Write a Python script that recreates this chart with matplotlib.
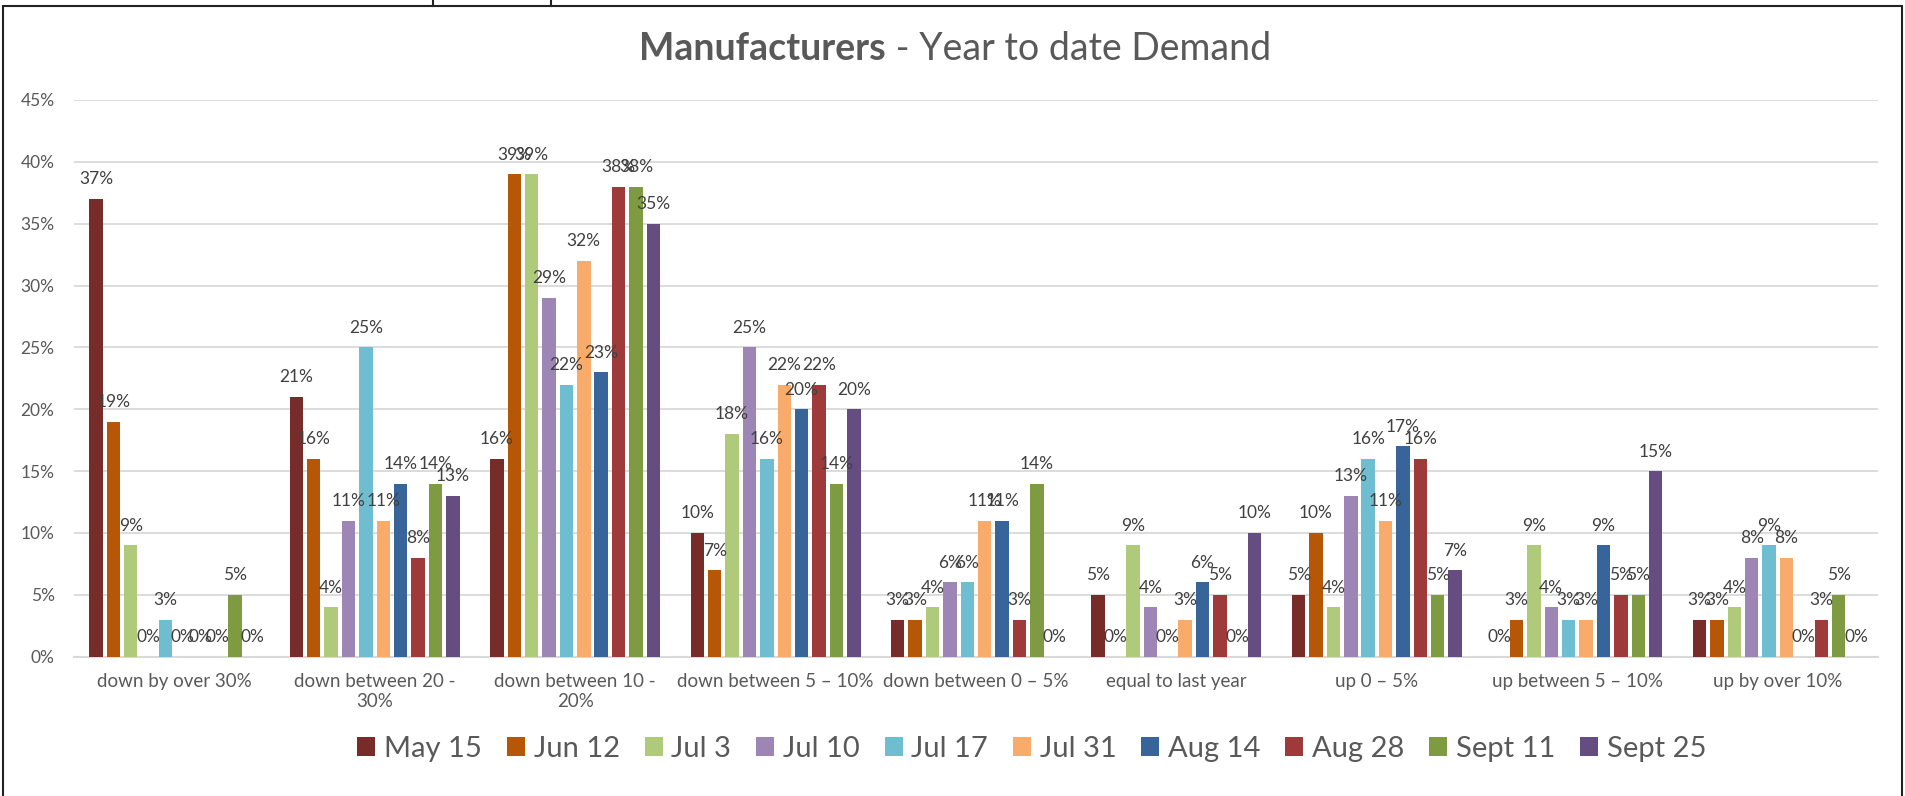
import matplotlib
matplotlib.use("Agg")
import matplotlib.pyplot as plt
from matplotlib.lines import Line2D
from matplotlib.patches import Rectangle

plt.rcParams['font.family'] = ['Lato', 'DejaVu Sans']

categories = [
    "down by over 30%", "down between 20 -\n30%", "down between 10 -\n20%",
    "down between 5 \u2013 10%", "down between 0 \u2013 5%", "equal to last year",
    "up 0 \u2013 5%", "up between 5 \u2013 10%", "up by over 10%",
]
series_names = ["May 15", "Jun 12", "Jul 3", "Jul 10", "Jul 17",
                "Jul 31", "Aug 14", "Aug 28", "Sept 11", "Sept 25"]
colors = ["#772C2A", "#B65708", "#B0CA7C", "#9D85B6", "#6FBDD0",
          "#F9AB6B", "#376599", "#9E3B3A", "#7E9B41", "#654D82"]

# percent per category, one list per survey date
may15 = [37, 21, 16, 10, 3, 5, 5, 0, 3]
jun12 = [19, 16, 39, 7, 3, 0, 10, 3, 3]
jul3 = [9, 4, 39, 18, 4, 9, 4, 9, 4]
jul10 = [0, 11, 29, 25, 6, 4, 13, 4, 8]
jul17 = [3, 25, 22, 16, 6, 0, 16, 3, 9]
jul31 = [0, 11, 32, 22, 11, 3, 11, 3, 8]
aug14 = [0, 14, 23, 20, 11, 6, 17, 9, 0]
aug28 = [0, 8, 38, 22, 3, 5, 16, 5, 3]
sept11 = [5, 14, 38, 14, 14, 0, 5, 5, 5]
sept25 = [0, 13, 35, 20, 0, 10, 7, 15, 0]
series = [may15, jun12, jul3, jul10, jul17, jul31, aug14, aug28, sept11, sept25]

W, H = 1906, 796
fig = plt.figure(figsize=(W / 100, H / 100), dpi=100)
ax = fig.add_axes([74 / W, 1 - 656.7 / H, (1878 - 74) / W, (656.7 - 100) / H])

slot = 0.0868
bw = 0.067
x = list(range(len(categories)))
for j, (vals, name, c) in enumerate(zip(series, series_names, colors)):
    xs = [i + (j - 4.5) * slot for i in x]
    ax.bar(xs, vals, width=bw, color=c, label=name, zorder=3)
    for xi, v in zip(xs, vals):
        ax.annotate(f"{v}%", (xi, v), xytext=(0, 10.5), textcoords='offset points',
                    ha='center', va='baseline', fontsize=12.5, color='#404040', zorder=4)

ax.set_xlim(-0.5, len(categories) - 0.5)
ax.set_ylim(0, 45)
ticks = list(range(0, 50, 5))
ax.set_yticks(ticks)
ax.set_yticklabels([f"{t}%" for t in ticks])
ax.set_xticks(x)
ax.set_xticklabels(categories)
ax.tick_params(axis='y', length=0, pad=14, labelsize=12.5, labelcolor='#595959')
ax.tick_params(axis='x', length=0, pad=12, labelsize=13.5, labelcolor='#595959')
ax.yaxis.grid(True, color='#D9D9D9', linewidth=1.3)
ax.set_axisbelow(True)
for s in ['top', 'right', 'left']:
    ax.spines[s].set_visible(False)
ax.spines['bottom'].set_color('#D9D9D9')
ax.spines['bottom'].set_linewidth(1.5)

ax.legend(loc='center', bbox_to_anchor=(1032 / W, 1 - 749 / H), bbox_transform=fig.transFigure,
          ncol=10, frameon=False, fontsize=21, handlelength=0.62, handleheight=0.62,
          handletextpad=0.3, columnspacing=0.85, labelcolor='#595959')

# title: bold part + regular part, centred together
ty = 1 - 49 / H
t1 = fig.text(0, ty, "Manufacturers", fontsize=27, weight='bold', color='#595959', va='center')
t2 = fig.text(0, ty, " - Year to date Demand", fontsize=27, color='#595959', va='center')
fig.canvas.draw()
r = fig.canvas.get_renderer()
w1 = t1.get_window_extent(r).width
w2 = t2.get_window_extent(r).width
x0 = 955 - (w1 + w2) / 2
t1.set_x(x0 / W)
t2.set_x((x0 + w1) / W)

# chart border and sheet cell lines above it
fig.add_artist(Rectangle((3 / W, -0.05), (1902 - 3) / W, 1.05 - 5.5 / H, transform=fig.transFigure,
                         fill=False, edgecolor='#222222', linewidth=1.5))
for xv in [433, 551]:
    fig.add_artist(Line2D([xv / W, xv / W], [1, 1 - 5.5 / H], transform=fig.transFigure,
                          color='#222222', linewidth=1.5))

fig.savefig("out.png", dpi=100)
